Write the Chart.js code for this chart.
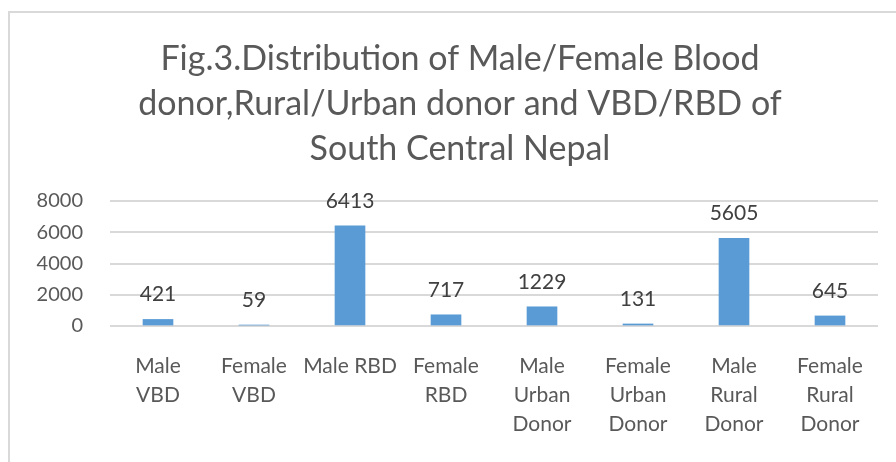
<!DOCTYPE html>
<html>
<head>
<meta charset="utf-8">
<script src="https://cdn.jsdelivr.net/npm/chart.js@4"></script>
<style>
  body { margin: 0; background: #fff; }
  #wrap { position: relative; width: 896px; height: 462px; overflow: hidden; }
  #frame { position: absolute; left: 8px; top: 11px; width: 1000px; height: 1000px;
           border-left: 2px solid #d9d9d9; border-top: 2px solid #d9d9d9; }
  canvas { position: absolute; left: 0; top: 0; }
</style>
</head>
<body>
<div id="wrap">
  <div id="frame"></div>
  <!-- the excel frame runs past the right edge, so the canvas does too -->
  <canvas id="donorChart" width="920" height="462"></canvas>
</div>
<script>
const titleLines = [
  "Fig.3.Distribution of Male/Female Blood",
  "donor,Rural/Urban donor and VBD/RBD of",
  "South Central Nepal",
];

const categories = [
  ["Male", "VBD"],
  ["Female", "VBD"],
  "Male RBD",
  ["Female", "RBD"],
  ["Male", "Urban", "Donor"],
  ["Female", "Urban", "Donor"],
  ["Male", "Rural", "Donor"],
  ["Female", "Rural", "Donor"],
];

const donorCounts = [421, 59, 6413, 717, 1229, 131, 5605, 645];

const yTicks = [0, 2000, 4000, 6000, 8000];

const fontFamily = "Lato, 'Open Sans', sans-serif";

// value labels above each bar
const barValueLabels = {
  id: "barValueLabels",
  afterDatasetsDraw(chart) {
    const { ctx } = chart;
    const meta = chart.getDatasetMeta(0);
    ctx.save();
    ctx.font = "21px " + fontFamily;
    ctx.fillStyle = "#404040";
    ctx.textAlign = "center";
    ctx.textBaseline = "middle";
    meta.data.forEach((bar, i) => {
      ctx.fillText(String(donorCounts[i]), bar.x, bar.y - 25);
    });
    ctx.restore();
  },
};

const ctx = document.getElementById("donorChart");

new Chart(ctx, {
  type: "bar",
  data: {
    labels: categories,
    datasets: [
      {
        data: donorCounts,
        backgroundColor: "#5b9bd5",
        borderWidth: 0,
        barThickness: 30,
      },
    ],
  },
  options: {
    responsive: false,
    animation: false,
    plugins: {
      legend: { display: false },
      tooltip: { enabled: false },
      title: {
        display: true,
        text: titleLines,
        color: "#595959",
        font: { family: fontFamily, size: 34, weight: "normal", lineHeight: "45px" },
        padding: { top: 37, bottom: 29 },
      },
    },
    scales: {
      x: {
        grid: { display: false },
        border: { display: false },
        ticks: {
          color: "#595959",
          font: { family: fontFamily, size: 21, lineHeight: "29px" },
          padding: 18,
          maxRotation: 0,
          autoSkip: false,
        },
        afterFit(scale) {
          scale.height = 136;
        },
      },
      y: {
        min: 0,
        max: 8000,
        afterBuildTicks(scale) {
          scale.ticks = yTicks.map((v) => ({ value: v }));
        },
        grid: { color: "#d9d9d9", lineWidth: 2, drawTicks: false },
        border: { display: false },
        ticks: {
          color: "#595959",
          font: { family: fontFamily, size: 20 },
          padding: 27,
          callback: (v) => String(v),
        },
        afterFit(scale) {
          scale.width = 110;
        },
      },
      // empty spacer on the right so the plot ends where the reference does
      spacer: {
        position: "right",
        grid: { display: false },
        border: { display: false },
        ticks: { display: false },
        afterFit(scale) {
          scale.width = 42;
        },
      },
    },
  },
  plugins: [barValueLabels],
});
</script>
</body>
</html>
